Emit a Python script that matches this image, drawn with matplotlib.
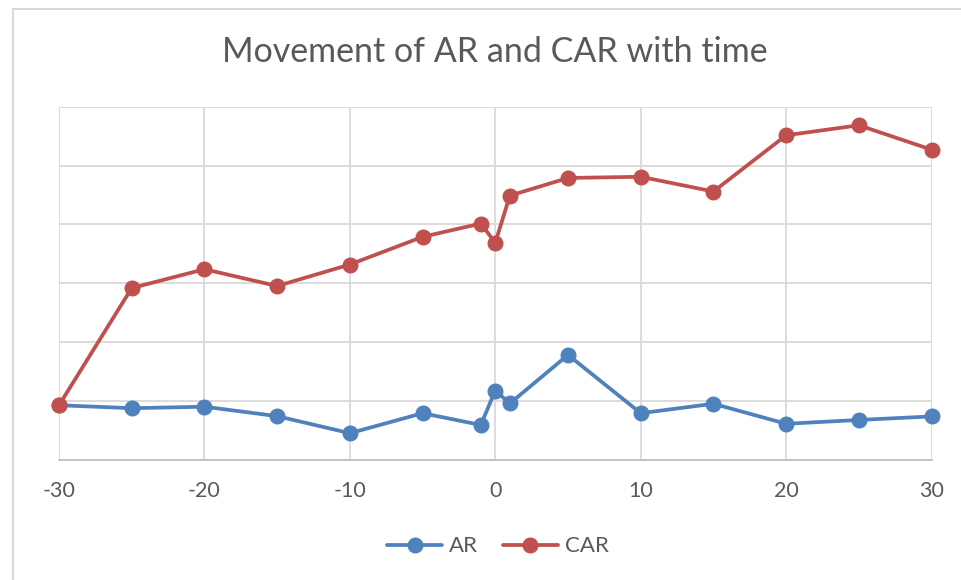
import matplotlib.pyplot as plt
from matplotlib.lines import Line2D

days = [-30, -25, -20, -15, -10, -5, -1, 0, 1, 5, 10, 15, 20, 25, 30]
ar = [-0.0014, -0.0024, -0.0019, -0.0051, -0.0109, -0.0041, -0.0081, 0.0036,
      -0.0008, 0.0157, -0.0041, -0.0009, -0.0077, -0.0064, -0.0052]
car = [-0.0014, 0.0384, 0.0448, 0.0391, 0.0464, 0.0558, 0.0603, 0.0538,
       0.0698, 0.0758, 0.0762, 0.0712, 0.0903, 0.0937, 0.0854]

plt.rcParams['font.family'] = ['Lato', 'DejaVu Sans']
plt.rcParams['axes.unicode_minus'] = False

fig = plt.figure(figsize=(9.61, 5.8), dpi=100)
ax = fig.add_axes([0.0614, 0.2069, 0.908, 0.6091])

ax.plot(days, ar, color='#4F81BD', lw=2.7, marker='o', ms=10.5, label='AR',
        solid_capstyle='round', clip_on=False, zorder=3)
ax.plot(days, car, color='#C0504D', lw=2.7, marker='o', ms=10.5, label='CAR',
        solid_capstyle='round', clip_on=False, zorder=3)

ax.set_xlim(-30, 30)
ax.set_ylim(-0.02, 0.10)
ax.set_xticks(range(-30, 31, 10))
ax.set_yticks([-0.02, 0, 0.02, 0.04, 0.06, 0.08, 0.10])
ax.set_yticklabels([])
ax.grid(True, color='#D9D9D9', lw=1.3)
ax.set_axisbelow(True)
for s in ['left', 'right', 'top']:
    ax.spines[s].set_visible(False)
ax.spines['bottom'].set_color('#BFBFBF')
ax.spines['bottom'].set_linewidth(1.3)
ax.tick_params(axis='both', length=0, labelsize=15.5, labelcolor='#595959', pad=15)

ax.set_title('Movement of AR and CAR with time', fontsize=24.5, color='#595959', pad=32)

fig.legend(loc='center', bbox_to_anchor=(0.518, 0.058), ncol=2, frameon=False,
           fontsize=16, labelcolor='#595959', handlelength=2.5, columnspacing=1.1,
           handletextpad=0.3)

# chart frame (only left and top edges visible)
fig.add_artist(Line2D([0.014, 0.014], [0, 0.985], color='#D9D9D9', lw=1.5))
fig.add_artist(Line2D([0.014, 1], [0.985, 0.985], color='#D9D9D9', lw=1.5))

fig.savefig('out.png', dpi=100)
